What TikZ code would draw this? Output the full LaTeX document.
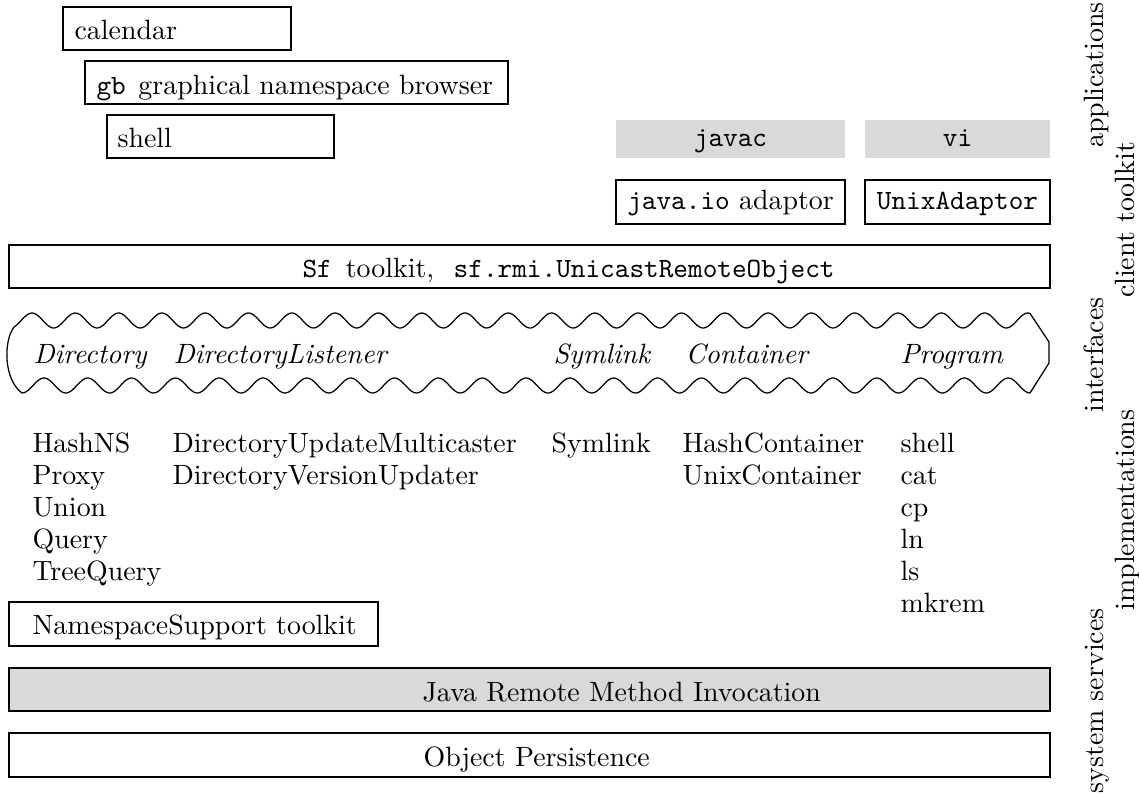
\documentclass[tikz,border=0pt]{standalone}
\begin{document}
\begin{tikzpicture}[x=0.3584pt, y=-0.3584pt,
  box/.style={draw, line width=0.45pt},
  greyfill/.style={fill=black!15},
  txt/.style={anchor=base west, inner sep=0pt},
  ctxt/.style={anchor=base, inner sep=0pt},
  vlab/.style={rotate=90, anchor=base, inner sep=0pt},
  wave/.style={line width=0.45pt}]
\useasboundingbox (0,0) rectangle (1139,799);

% application boxes
\draw[box] (63,7) rectangle (291,50);
\node[txt] (cal) at (74,40) {calendar};
\draw[box] (85,61) rectangle (508,104);
\node[txt] (gb) at (96,95) {\texttt{gb}\hspace{4.5pt}graphical namespace browser};
\draw[box] (107,115) rectangle (334,158);
\node[txt] (sh) at (117,148) {shell};

\fill[greyfill] (616,120) rectangle (845,158);
\node[ctxt] (javac) at (730.5,147) {\texttt{javac}};
\fill[greyfill] (865,120) rectangle (1050,158);
\node[ctxt] (vi) at (957.5,147) {\texttt{vi}};

% client toolkit
\draw[box] (616,180) rectangle (845,224);
\node[ctxt] (jio) at (730.5,210) {\texttt{java.io} adaptor};
\draw[box] (865,180) rectangle (1050,224);
\node[ctxt] (ua) at (957.5,210) {\texttt{UnixAdaptor}};
\draw[box] (9,245) rectangle (1050,288);
\node[txt] (sf) at (302,277) {\texttt{Sf}\hspace{5pt}toolkit,\hspace{7pt}\texttt{sf.rmi.UnicastRemoteObject}};

% interfaces band
\draw[wave] plot[domain=14:1030, samples=500] (\x,{320.5-7.5*cos((\x-32)/43.3*360)});
\draw[wave] plot[domain=22:1030, samples=500] (\x,{385.5+7.5*cos((\x-22)/43.83*360)});
\draw[wave] (14,327) .. controls (3,342) and (4,380) .. (22,393);
\draw[wave] (1030,313.4) -- (1049,342) -- (1049,363) -- (1030,393);
\node[txt] (i1) at (33,363) {\textit{Directory}};
\node[txt] (i2) at (173,363) {\textit{DirectoryListener}};
\node[txt] (i3) at (553,363) {\textit{Symlink}};
\node[txt] (i4) at (685,363) {\textit{Container}};
\node[txt] (i5) at (900,363) {\textit{Program}};

% implementations
\node[txt] (a1) at (32,452) {HashNS};
\node[txt] (a2) at (32,484) {Proxy};
\node[txt] (a3) at (32,516) {Union};
\node[txt] (a4) at (32,548) {Query};
\node[txt] (a5) at (32,580) {TreeQuery};
\node[txt] (b1) at (172,452) {DirectoryUpdateMulticaster};
\node[txt] (b2) at (172,484) {DirectoryVersionUpdater};
\node[txt] (c1) at (551,452) {Symlink};
\node[txt] (d1) at (682,452) {HashContainer};
\node[txt] (d2) at (682,484) {UnixContainer};
\node[txt] (e1) at (900,452) {shell};
\node[txt] (e2) at (900,484) {cat};
\node[txt] (e3) at (900,516) {cp};
\node[txt] (e4) at (900,548) {ln};
\node[txt] (e5) at (900,580) {ls};
\node[txt] (e6) at (900,612) {mkrem};

\draw[box] (9,602) rectangle (378,646);
\node[txt] (ns) at (32,634) {NamespaceSupport toolkit};

% system services
\draw[box, greyfill] (9,668) rectangle (1050,711);
\node[txt] (rmi) at (422,701) {Java Remote Method Invocation};
\draw[box] (9,733) rectangle (1050,777);
\node[txt] (op) at (423,766) {Object Persistence};

% level labels
\node[vlab] (lapp) at (1103,75) {applications};
\node[vlab] (lint) at (1103,355) {interfaces};
\node[vlab] (lsys) at (1103,701) {system services};
\node[vlab] (lct) at (1134,220) {client toolkit};
\node[vlab] (limp) at (1134,510) {implementations};
\end{tikzpicture}
\end{document}
